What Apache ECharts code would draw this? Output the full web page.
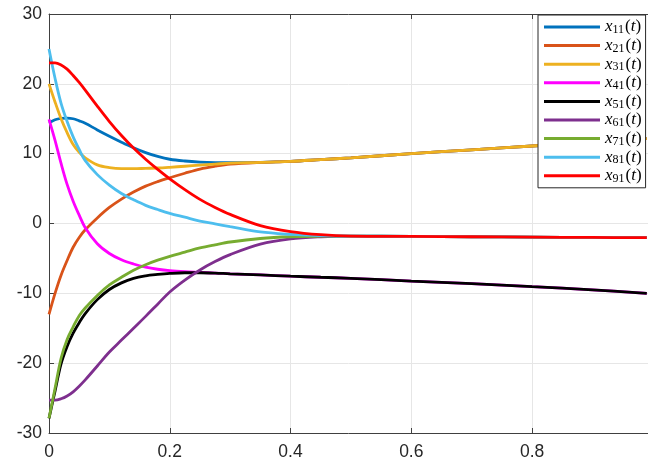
<!DOCTYPE html>
<html>
<head>
<meta charset="utf-8">
<script src="https://cdn.jsdelivr.net/npm/echarts@6/dist/echarts.min.js"></script>
<style>html,body{margin:0;padding:0;background:#fff}#c{width:648px;height:461px}</style>
</head>
<body>
<div id="c"></div>
<script>
const t = [0, 0.01, 0.02, 0.03, 0.04, 0.05, 0.06, 0.08, 0.1, 0.12, 0.14, 0.16, 0.18, 0.2, 0.225, 0.25, 0.275, 0.3, 0.35, 0.4, 0.45, 0.5, 0.6, 0.7, 0.8, 0.9, 0.99];
const x11 = [14.4, 14.85, 15.05, 15.1, 15.0, 14.7, 14.35, 13.4, 12.5, 11.65, 10.85, 10.15, 9.6, 9.2, 8.95, 8.8, 8.72, 8.7, 8.75, 8.9, 9.15, 9.4, 10.0, 10.55, 11.1, 11.65, 12.15];
const x21 = [-13.0, -10.0, -7.4, -5.3, -3.4, -2.0, -0.9, 0.8, 2.3, 3.5, 4.5, 5.35, 6.0, 6.55, 7.2, 7.8, 8.2, 8.5, 8.75, 8.9, 9.15, 9.4, 10.0, 10.55, 11.1, 11.65, 12.15];
const x31 = [20.0, 17.4, 15.0, 13.0, 11.3, 10.2, 9.4, 8.4, 8.0, 7.85, 7.85, 7.9, 7.95, 8.05, 8.2, 8.35, 8.5, 8.65, 8.75, 8.9, 9.15, 9.4, 10.0, 10.55, 11.1, 11.65, 12.15];
const x41 = [14.9, 11.9, 8.6, 5.6, 3.2, 1.2, -0.6, -2.9, -4.3, -5.2, -5.8, -6.25, -6.55, -6.75, -6.9, -7.0, -7.1, -7.2, -7.35, -7.55, -7.7, -7.85, -8.25, -8.6, -9.05, -9.5, -10.0];
const x51 = [-27.9, -24.0, -20.1, -17.6, -15.7, -14.2, -12.9, -10.9, -9.45, -8.5, -7.85, -7.5, -7.3, -7.15, -7.05, -7.05, -7.1, -7.2, -7.35, -7.55, -7.7, -7.85, -8.25, -8.6, -9.05, -9.5, -10.0];
const x61 = [-25.3, -25.3, -25.1, -24.7, -24.1, -23.3, -22.4, -20.4, -18.4, -16.7, -15.0, -13.3, -11.55, -9.8, -8.1, -6.65, -5.45, -4.45, -2.95, -2.2, -1.9, -1.8, -1.85, -1.9, -1.95, -2.0, -2.03];
const x71 = [-27.9, -23.6, -19.3, -16.6, -14.8, -13.2, -12.1, -10.3, -8.8, -7.7, -6.7, -5.9, -5.25, -4.7, -4.1, -3.5, -3.05, -2.65, -2.15, -1.9, -1.82, -1.8, -1.85, -1.9, -1.95, -2.0, -2.03];
const x81 = [25.0, 20.8, 17.2, 14.6, 12.4, 10.6, 9.0, 7.0, 5.5, 4.3, 3.4, 2.6, 2.0, 1.45, 0.9, 0.35, -0.05, -0.45, -1.2, -1.55, -1.75, -1.8, -1.85, -1.9, -1.95, -2.0, -2.03];
const x91 = [23.0, 23.0, 22.7, 22.1, 21.2, 20.2, 19.1, 16.8, 14.6, 12.6, 10.8, 9.2, 7.75, 6.4, 4.85, 3.45, 2.3, 1.3, -0.3, -1.15, -1.6, -1.8, -1.85, -1.9, -1.95, -2.0, -2.03];
const seriesNames = ['x11', 'x21', 'x31', 'x41', 'x51', 'x61', 'x71', 'x81', 'x91'];
const seriesValues = [x11, x21, x31, x41, x51, x61, x71, x81, x91];
const colors = ['#0072BD', '#D95319', '#EDB120', '#FF00FF', '#000000', '#7E2F8E', '#77AC30', '#4DBEEE', '#FF0000'];
const xTicks = [0, 0.2, 0.4, 0.6, 0.8];
const yTicks = [-30, -20, -10, 0, 10, 20, 30];

const chart = echarts.init(document.getElementById('c'), null, {renderer: 'canvas'});
const axisColor = '#404040';
const labelFont = {color: '#262626', fontSize: 17.5, fontFamily: 'Liberation Sans, Arial, sans-serif'};
const option = {
  animation: false,
  backgroundColor: '#ffffff',
  color: colors,
  grid: {left: 49, top: 14, width: 599, height: 419, show: false},
  legend: {
    orient: 'vertical',
    left: 538, top: 15,
    padding: [3, 4, 3, 6],
    backgroundColor: '#ffffff',
    borderColor: '#262626',
    borderWidth: 1,
    borderRadius: 0,
    icon: 'rect',
    itemWidth: 56,
    itemHeight: 3,
    itemGap: 0.6,
    data: seriesNames,
    formatter: function (name) {
      return '{i|x}{s|' + name.slice(1) + '}{n|(}{i|t}{n|)}';
    },
    textStyle: {
      color: '#000',
      rich: {
        i: {fontFamily: 'Liberation Serif, serif', fontStyle: 'italic', fontSize: 17, lineHeight: 16, color: '#000'},
        n: {fontFamily: 'Liberation Serif, serif', fontSize: 17, lineHeight: 16, color: '#000'},
        s: {fontFamily: 'Liberation Serif, serif', fontSize: 12, lineHeight: 10, padding: [6, 1, 0, 0], color: '#000'}
      }
    }
  },
  xAxis: [{
    type: 'value', min: 0, max: 0.992, interval: 0.2,
    axisLine: {show: true, onZero: false, lineStyle: {color: axisColor, width: 1}},
    axisTick: {show: true, inside: true, length: 5, lineStyle: {color: axisColor}},
    axisLabel: Object.assign({margin: 10, showMaxLabel: false, formatter: v => (xTicks.indexOf(Math.round(v * 10) / 10) >= 0 ? String(Math.round(v * 10) / 10) : '')}, labelFont),
    splitLine: {show: true, lineStyle: {color: '#e6e6e6', width: 1}}
  }, {
    type: 'value', position: 'top', min: 0, max: 0.992, interval: 0.2,
    axisLine: {show: true, onZero: false, lineStyle: {color: axisColor, width: 1}},
    axisTick: {show: true, inside: true, length: 5, lineStyle: {color: axisColor}},
    axisLabel: {show: false}, splitLine: {show: false}
  }],
  yAxis: {
    type: 'value', min: yTicks[0], max: yTicks[yTicks.length - 1], interval: 10,
    axisLine: {show: true, onZero: false, lineStyle: {color: axisColor, width: 1}},
    axisTick: {show: true, inside: true, length: 5, lineStyle: {color: axisColor}},
    axisLabel: Object.assign({margin: 7}, labelFont),
    splitLine: {show: true, lineStyle: {color: '#e6e6e6', width: 1}}
  },
  series: seriesNames.map((n, k) => ({
    name: n,
    type: 'line',
    xAxisIndex: 0,
    data: t.map((tt, i) => [tt, seriesValues[k][i]]),
    smooth: 0.35,
    showSymbol: false,
    symbol: 'none',
    clip: true,
    lineStyle: {width: 2.8, color: colors[k]},
    itemStyle: {color: colors[k]}
  }))
};
chart.setOption(option);
</script>
</body>
</html>
